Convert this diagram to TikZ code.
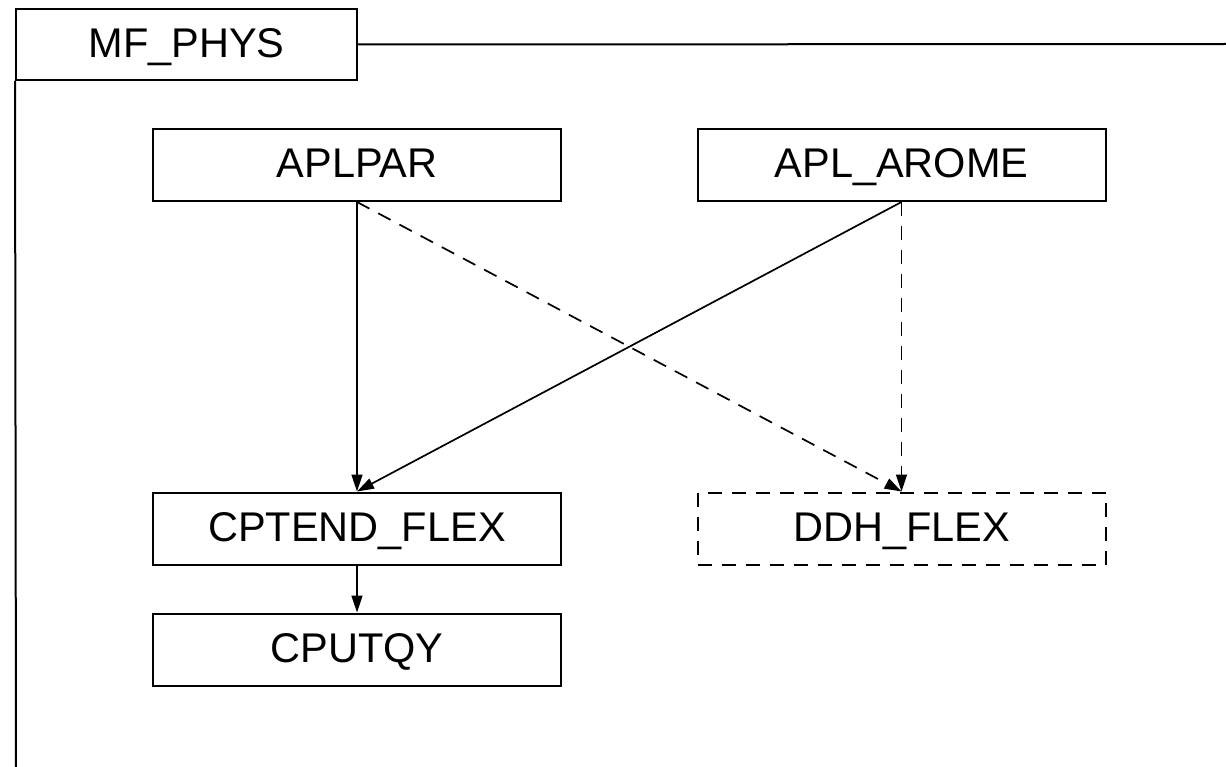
\documentclass[tikz,border=0pt]{standalone}
\usepackage{fontspec}
\setmainfont{Liberation Sans}
\usetikzlibrary{arrows.meta}
\begin{document}
\begin{tikzpicture}[x=1pt,y=-1pt,
  every node/.style={font=\fontsize{41.5}{48}\selectfont,text height=28pt,text depth=2pt},
  frameline/.style={line width=2pt},
  unit/.style={draw,frameline,minimum width=408pt,minimum height=72pt,inner sep=0pt},
  optunit/.style={unit,dash pattern=on 14pt off 10pt},
  call/.style={line width=1.7pt,-{Triangle[length=17pt,width=11pt]}},
  optcall/.style={call,dash pattern=on 14pt off 10pt}]
  \useasboundingbox (0,0) rectangle (1226,767);
  % package frame with its title tab
  \node[draw,frameline,minimum width=341pt,minimum height=71pt,inner sep=0pt] (pkg) at (186.5,44.5) {MF\_PHYS};
  \coordinate (topend) at (1230,44);
  \coordinate (botend) at (16,770);
  \draw[frameline] (pkg.east) -- (topend);
  \draw[frameline] (pkg.south west) -- (botend);
  % routines
  \node[unit] (aplpar) at (357,165) {APLPAR};
  \node[unit] (arome) at (901.5,165) {APL\_AROME};
  \node[unit] (cptend) at (357,528.5) {CPTEND\_FLEX};
  \node[optunit] (ddh) at (901.5,528.5) {DDH\_FLEX};
  \node[unit] (cputqy) at (357,649.5) {CPUTQY};
  % calls
  \draw[call] (aplpar.south) -- (cptend.north);
  \draw[optcall] (aplpar.south) -- (ddh.north);
  \draw[call] (arome.south) -- (cptend.north);
  \draw[optcall] (arome.south) -- (ddh.north);
  \draw[call] (cptend.south) -- (cputqy.north);
\end{tikzpicture}
\end{document}
